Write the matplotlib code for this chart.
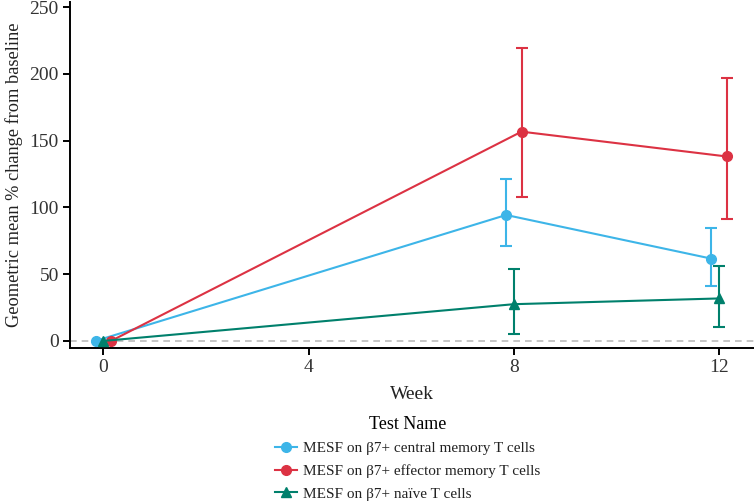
import matplotlib
matplotlib.use("Agg")
import matplotlib.pyplot as plt
import numpy as np

plt.rcParams['font.family'] = ['Liberation Serif', 'DejaVu Serif']

weeks = [0, 8, 12]
series_names = ["MESF on β7+ central memory T cells",
                "MESF on β7+ effector memory T cells",
                "MESF on β7+ naïve T cells"]
central_mean = [0, 94.3, 61.6]
central_lo = [0, 71.3, 41.1]
central_hi = [0, 121.6, 84.6]
effector_mean = [0, 156.7, 138.1]
effector_lo = [0, 107.6, 91.4]
effector_hi = [0, 219.0, 196.5]
naive_mean = [0, 27.5, 31.8]
naive_lo = [0, 5.3, 10.7]
naive_hi = [0, 53.5, 55.8]

colors = ["#3DB5E8", "#DC3243", "#00806C"]
markers = ["o", "o", "^"]
offsets = [-0.15, 0.15, 0.0]

fig = plt.figure(figsize=(7.54, 5.01), dpi=100)
ax = fig.add_axes([0.0928, 0.3054, 0.9072, 0.6912])

ax.axhline(0, color="#BBBBBB", linestyle=(0, (4, 3)), linewidth=1.2, zorder=1)

data = [(central_mean, central_lo, central_hi),
        (effector_mean, effector_lo, effector_hi),
        (naive_mean, naive_lo, naive_hi)]
handles = []
for (m, lo, hi), c, mk, off, name in zip(data, colors, markers, offsets, series_names):
    x = np.array(weeks, dtype=float) + off
    m = np.array(m); lo = np.array(lo); hi = np.array(hi)
    idx = np.arange(1, len(weeks))
    ax.errorbar(x[idx], m[idx], yerr=[m[idx] - lo[idx], hi[idx] - m[idx]],
                fmt="none", ecolor=c, elinewidth=1.5, capsize=4.3, capthick=1.5, zorder=2)
    h, = ax.plot(x, m, color=c, marker=mk, markersize=7, linewidth=1.5, zorder=3, label=name)
    handles.append(h)

ax.set_xlim(-0.65, 12.68)
ax.set_ylim(-5.3, 254)
ax.set_xticks([0, 4, 8, 12])
ax.set_yticks([0, 50, 100, 150, 200, 250])
ax.spines['top'].set_visible(False)
ax.spines['right'].set_visible(False)
for s in ['left', 'bottom']:
    ax.spines[s].set_linewidth(1.4)
ax.tick_params(axis='both', labelsize=14, width=1.4, length=5, color='black', labelcolor='#333333', pad=3)
ax.set_xlabel("Week", fontsize=14, color='#222222', labelpad=7)
ax.set_ylabel("Geometric mean % change from baseline", fontsize=13.2, color='#222222', labelpad=5)

leg = fig.legend(handles=handles, labels=series_names, title="Test Name",
                 loc="upper left", bbox_to_anchor=(275 / 754, 0.170), frameon=False,
                 fontsize=11, title_fontsize=13, handlelength=1.45, handletextpad=0.4,
                 labelspacing=0.58, borderpad=0, borderaxespad=0, alignment='center')
for t in leg.get_texts():
    t.set_color('#222222')

fig.savefig("out.png", dpi=100)
